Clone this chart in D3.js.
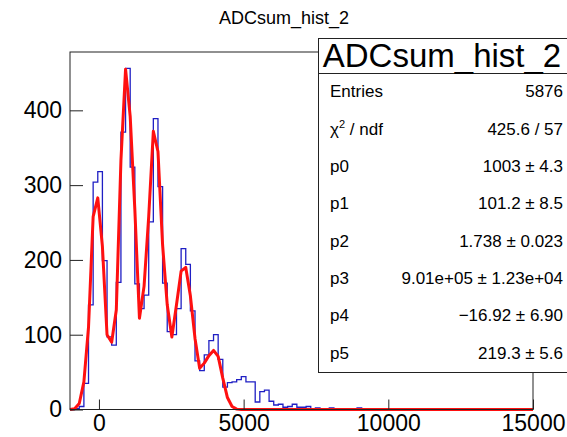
<!DOCTYPE html>
<html lang="en">
<head>
<meta charset="UTF-8">
<title>ADCsum_hist_2</title>
<style>
  body { margin: 0; background: #fff; }
  text { font-family: "Liberation Sans", Arial, sans-serif; fill: #000; }
  .frame { fill: none; stroke: #222; stroke-width: 1; }
  .hist { fill: none; stroke: #1f1fc4; stroke-width: 1.3; }
  .fit { fill: none; stroke: #ff1010; stroke-width: 3; stroke-linejoin: round; }
  .axis path.domain { display: none; }
  .axis line { stroke: #222; }
</style>
</head>
<body>
<svg width="567" height="437"></svg>
<script src="https://d3js.org/d3.v7.min.js"></script>
<script>
// histogram: 100 bins, -1000 .. 15000
var binLo = -1000, binWidth = 160;
var counts = [
  0, 1, 4, 35, 140, 304, 318, 199, 97, 86,
  170, 371, 456, 324, 168, 135, 153, 251, 389, 298,
  169, 104, 100, 135, 215, 194, 132, 65, 52, 73,
  92, 100, 67, 30, 36, 37, 40, 44, 37, 37,
  10, 24, 26, 11, 6, 7, 3, 4, 7, 3,
  3, 4, 1, 2, 0, 0, 2, 0, 1, 0,
  0, 0, 2, 0, 0, 0, 0, 0, 0, 0,
  0, 0, 0, 0, 0, 0, 0, 0, 0, 0,
  0, 0, 0, 0, 0, 0, 0, 0, 0, 0,
  0, 0, 0, 0, 0, 0, 0, 0, 0, 0
];

// fit curve
var fitX = [-1000, -840, -680, -520, -360, -200, -40, 120, 280, 440,
            600, 760, 920, 1080, 1240, 1400, 1560, 1720, 1880, 2040,
            2200, 2360, 2520, 2680, 2840, 3000, 3160, 3320, 3480, 3640,
            3800, 3960, 4120, 4280, 4440, 4600, 4760, 4920, 15000];
var fitY = [0, 1, 8, 37, 110, 258, 283, 218, 100, 90,
            133, 333, 455, 392, 268, 122, 165, 258, 372, 345,
            220, 140, 97, 140, 185, 190, 152, 95, 55, 62,
            72, 79, 71, 42, 16, 4, 0.5, 0, 0];

var xTicks = [0, 5000, 10000, 15000];
var yTicks = [0, 100, 200, 300, 400];

var statLabels = ["Entries", "chi2", "p0", "p1", "p2", "p3", "p4", "p5"];
var statValues = ["5876", "425.6 / 57", "1003 \u00b1 4.3", "101.2 \u00b1 8.5",
                  "1.738 \u00b1 0.023", "9.01e+05 \u00b1 1.23e+04",
                  "\u221216.92 \u00b1 6.90", "219.3 \u00b1 5.6"];

var svg = d3.select("svg");
var mLeft = 70, mRight = 533, mTop = 52, mBottom = 409.5;

var x = d3.scaleLinear().domain([-1000, 15000]).range([mLeft, mRight]);
var y = d3.scaleLinear().domain([0, 478]).range([mBottom, mTop]);

// title
svg.append("text")
    .attr("x", 284).attr("y", 24)
    .attr("text-anchor", "middle")
    .style("font-size", "18px")
    .text("ADCsum_hist_2");

// histogram outline
var pts = [[x(binLo), y(0)]];
counts.forEach(function (c, i) {
    var x0 = x(binLo + i * binWidth), x1 = x(binLo + (i + 1) * binWidth);
    pts.push([x0, y(c)], [x1, y(c)]);
});
pts.push([x(binLo + counts.length * binWidth), y(0)]);

svg.append("path")
    .attr("class", "hist")
    .attr("d", d3.line()(pts));

// fit
svg.append("path")
    .attr("class", "fit")
    .attr("d", d3.line()
        .x(function (d, i) { return x(fitX[i]); })
        .y(function (d) { return y(d); })(fitY));

// axes
svg.append("g")
    .attr("class", "axis")
    .attr("transform", "translate(" + mLeft + ",0)")
    .call(d3.axisLeft(y).tickValues(yTicks).tickSize(-13).tickPadding(8))
    .selectAll("text").style("font-size", "23px");

svg.append("g")
    .attr("class", "axis")
    .attr("transform", "translate(0," + mBottom + ")")
    .call(d3.axisBottom(x).tickValues(xTicks).tickSize(-10).tickPadding(5)
        .tickFormat(d3.format("d")))
    .selectAll("text").style("font-size", "23px");

svg.append("rect")
    .attr("class", "frame")
    .attr("x", mLeft).attr("y", mTop)
    .attr("width", mRight - mLeft).attr("height", mBottom - mTop);

// stats box
var bx = 318.5, by = 38.5, bw = 260, bh = 334;
var sep = 73.5;
var g = svg.append("g");
g.append("rect")
    .attr("x", bx).attr("y", by).attr("width", bw).attr("height", bh)
    .attr("fill", "#fff").attr("stroke", "#222");
g.append("line")
    .attr("x1", bx).attr("x2", bx + bw).attr("y1", sep).attr("y2", sep)
    .attr("stroke", "#222");
g.append("text")
    .attr("x", 442).attr("y", 67)
    .attr("text-anchor", "middle")
    .style("font-size", "33px")
    .text("ADCsum_hist_2");

var rowH = (by + bh - sep) / statLabels.length;
statLabels.forEach(function (lab, i) {
    var yy = sep + rowH * (i + 0.5) + 5;
    var t = g.append("text").attr("x", 330).attr("y", yy).style("font-size", "17px");
    if (lab === "chi2") {
        t.append("tspan").text("\u03c7");
        t.append("tspan").attr("dy", -7).style("font-size", "11px").text("2");
        t.append("tspan").attr("dy", 7).text(" / ndf");
    } else {
        t.text(lab);
    }
    g.append("text")
        .attr("x", 563).attr("y", yy)
        .attr("text-anchor", "end")
        .style("font-size", "17px")
        .text(statValues[i]);
});
</script>
</body>
</html>
